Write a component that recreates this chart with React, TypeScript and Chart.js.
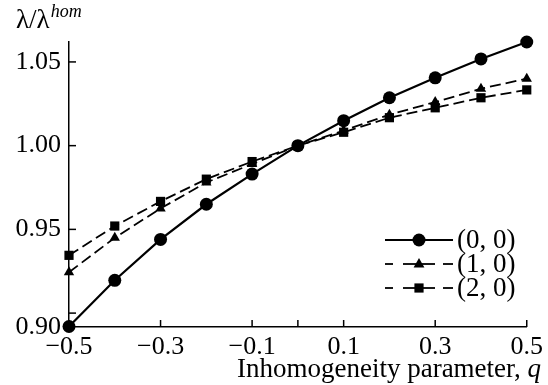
import React, { useEffect, useRef } from "react";
import { Chart, registerables } from "chart.js";

Chart.register(...registerables);

const qValues = [-0.5, -0.4, -0.3, -0.2, -0.1, 0, 0.1, 0.2, 0.3, 0.4, 0.5];
const series00 = [0.892, 0.9196, 0.944, 0.965, 0.983, 1.0, 1.0149, 1.0286, 1.0405, 1.0518, 1.0619];
const series10 = [0.9244, 0.945, 0.9625, 0.978, 0.989, 1.0, 1.009, 1.0185, 1.026, 1.034, 1.04];
const series20 = [0.9345, 0.952, 0.9667, 0.98, 0.9905, 1.0, 1.008, 1.0167, 1.0226, 1.0286, 1.0333];
const seriesLabels = ["(0, 0)", "(1, 0)", "(2, 0)"];

const xMin = -0.5;
const xMax = 0.5;
const yMin = 0.8917;
const yMax = 1.0619;
const xTickValues = [-0.5, -0.3, -0.1, 0, 0.1, 0.3, 0.5];
const xTickLabels = ["\u22120.5", "\u22120.3", "\u22120.1", "", "0.1", "0.3", "0.5"];
const yTickValues = [yMin, 0.9, 0.95, 1.0, 1.05];
const yTickLabels = ["0.90", "", "0.95", "1.00", "1.05"];
const yTickMarks = [0.9, 0.95, 1.0, 1.05];

const FONT = "'Liberation Serif', 'Times New Roman', serif";

const decorPlugin = {
  id: "decor",
  afterDraw(chart: any) {
    const ctx = chart.ctx;
    const xs = chart.scales.x;
    const ys = chart.scales.y;
    const area = chart.chartArea;
    ctx.save();
    ctx.strokeStyle = "#000";
    ctx.lineWidth = 1.5;
    // inward tick marks
    xTickValues.forEach((v) => {
      const px = xs.getPixelForValue(v);
      ctx.beginPath();
      ctx.moveTo(px, area.bottom);
      ctx.lineTo(px, area.bottom - 7);
      ctx.stroke();
    });
    yTickMarks.forEach((v) => {
      const py = ys.getPixelForValue(v);
      ctx.beginPath();
      ctx.moveTo(area.left, py);
      ctx.lineTo(area.left + 7, py);
      ctx.stroke();
    });

    // y title
    ctx.fillStyle = "#000";
    ctx.textBaseline = "alphabetic";
    ctx.textAlign = "left";
    ctx.font = `27px ${FONT}`;
    const main = "\u03bb/\u03bb";
    ctx.fillText(main, 16, 28);
    const w = ctx.measureText(main).width;
    ctx.font = `italic 18px ${FONT}`;
    ctx.fillText("hom", 16 + w + 1, 17);

    // x title
    ctx.font = `italic 27px ${FONT}`;
    const qw = ctx.measureText("q").width;
    ctx.font = `27px ${FONT}`;
    const t = "Inhomogeneity parameter, ";
    const tw = ctx.measureText(t).width;
    const right = 541;
    ctx.fillText(t, right - qw - tw, 377);
    ctx.font = `italic 27px ${FONT}`;
    ctx.fillText("q", right - qw, 377);

    // legend
    const rowsY = [240, 264, 288];
    chart.data.datasets.forEach((ds: any, i: number) => {
      const y = rowsY[i];
      ctx.strokeStyle = "#000";
      ctx.lineWidth = ds.borderWidth;
      ctx.setLineDash([]);
      if (i === 0) {
        ctx.beginPath();
        ctx.moveTo(385, y);
        ctx.lineTo(453, y);
        ctx.stroke();
      } else {
        [[385, 393], [403, 435], [443, 453]].forEach(([a, b]) => {
          ctx.beginPath();
          ctx.moveTo(a, y);
          ctx.lineTo(b, y);
          ctx.stroke();
        });
      }
      // marker
      ctx.fillStyle = "#000";
      const r = ds.pointRadius;
      ctx.beginPath();
      if (ds.pointStyle === "circle") {
        ctx.arc(419, y, r, 0, Math.PI * 2);
      } else if (ds.pointStyle === "triangle") {
        ctx.moveTo(419, y - r);
        ctx.lineTo(419 + r * 0.9, y + r * 0.6);
        ctx.lineTo(419 - r * 0.9, y + r * 0.6);
        ctx.closePath();
      } else {
        const s = r * Math.SQRT1_2;
        ctx.rect(419 - s, y - s, 2 * s, 2 * s);
      }
      ctx.fill();
      ctx.font = `27px ${FONT}`;
      ctx.textBaseline = "middle";
      ctx.fillText(ds.label, 457, y + 1);
    });
    ctx.restore();
  },
};

export default function App() {
  const ref = useRef<HTMLCanvasElement | null>(null);
  useEffect(() => {
    if (!ref.current) return;
    const mk = (vals: number[]) => qValues.map((q, i) => ({ x: q, y: vals[i] }));
    const chart = new Chart(ref.current, {
      type: "line",
      data: {
        datasets: [
          {
            label: seriesLabels[0],
            data: mk(series00),
            borderColor: "#000",
            backgroundColor: "#000",
            borderWidth: 2.2,
            pointStyle: "circle",
            pointRadius: 6.5,
            pointBackgroundColor: "#000",
            pointBorderWidth: 0,
            clip: false,
          },
          {
            label: seriesLabels[1],
            data: mk(series10),
            borderColor: "#000",
            backgroundColor: "#000",
            borderWidth: 1.8,
            borderDash: [11, 5],
            pointStyle: "triangle",
            pointRadius: 6,
            pointBackgroundColor: "#000",
            pointBorderWidth: 0,
            clip: false,
          },
          {
            label: seriesLabels[2],
            data: mk(series20),
            borderColor: "#000",
            backgroundColor: "#000",
            borderWidth: 1.8,
            borderDash: [11, 5],
            pointStyle: "rect",
            pointRadius: 6.5,
            pointBackgroundColor: "#000",
            pointBorderWidth: 0,
            clip: false,
          },
        ] as any,
      },
      options: {
        animation: false,
        responsive: false,
        layout: { padding: { top: 42, right: 15, left: 0, bottom: 0 } },
        plugins: { legend: { display: false }, tooltip: { enabled: false } },
        scales: {
          x: {
            type: "linear",
            min: xMin,
            max: xMax,
            grid: { display: false, drawTicks: false },
            border: { display: true, color: "#000", width: 1.5 },
            afterBuildTicks: (s: any) => {
              s.ticks = xTickValues.map((v) => ({ value: v }));
            },
            afterFit: (s: any) => {
              s.height = 58;
            },
            ticks: {
              autoSkip: false,
              maxRotation: 0,
              padding: 5,
              color: "#000",
              font: { family: FONT, size: 26 },
              callback: (_v: any, i: number) => xTickLabels[i],
            },
          },
          y: {
            type: "linear",
            min: yMin,
            max: yMax,
            grid: { display: false, drawTicks: false },
            border: { display: true, color: "#000", width: 1.5 },
            afterBuildTicks: (s: any) => {
              s.ticks = yTickValues.map((v) => ({ value: v }));
            },
            afterFit: (s: any) => {
              s.width = 69;
            },
            ticks: {
              autoSkip: false,
              padding: 8,
              color: "#000",
              font: { family: FONT, size: 26 },
              callback: (_v: any, i: number) => yTickLabels[i],
            },
          },
        },
      } as any,
      plugins: [decorPlugin],
    });
    return () => chart.destroy();
  }, []);
  return (
    <div style={{ position: "fixed", left: 0, top: 0, width: 548, height: 385, background: "#fff" }}>
      <canvas ref={ref} width={548} height={385} style={{ width: 548, height: 385 }} />
    </div>
  );
}
